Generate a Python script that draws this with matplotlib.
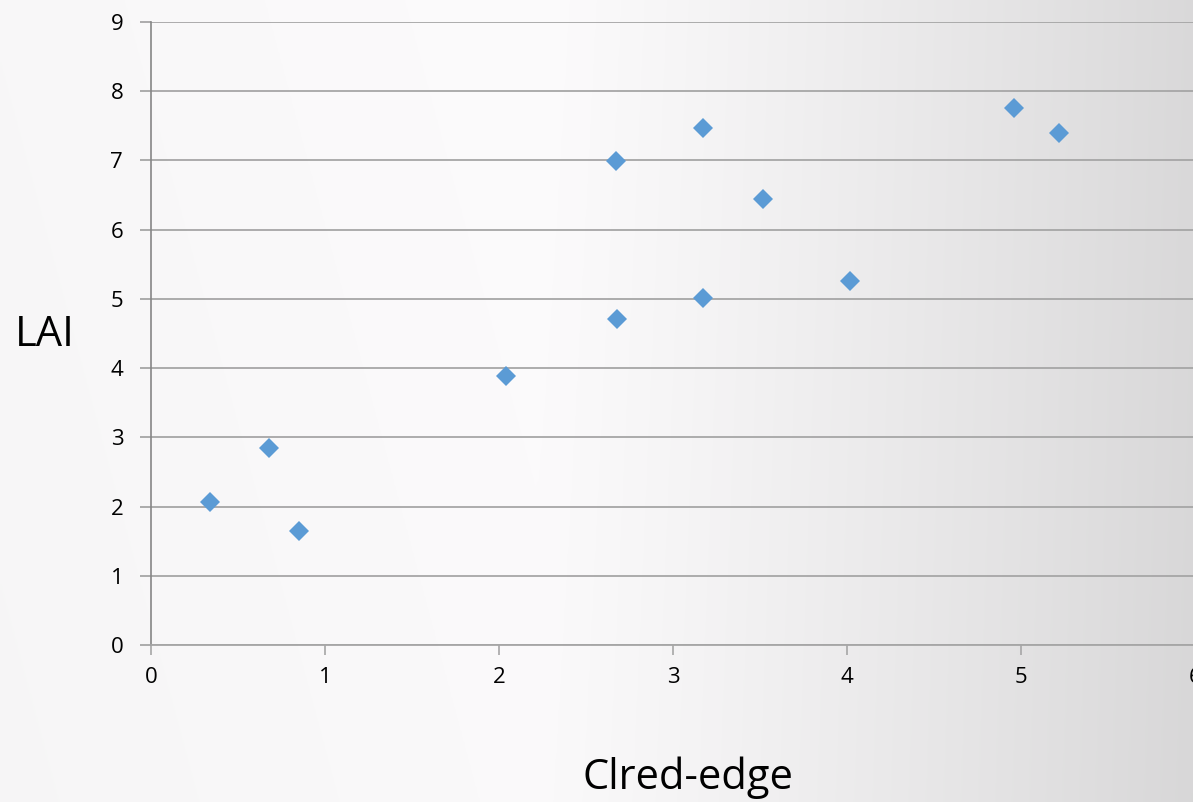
import numpy as np
import matplotlib.pyplot as plt

# данні
cl_red_edge = [0.34, 0.68, 0.85, 2.04, 2.67, 2.68, 3.17, 3.17, 3.52, 4.02, 4.96, 5.22]
lai = [2.07, 2.85, 1.65, 3.89, 6.99, 4.71, 7.47, 5.02, 6.44, 5.26, 7.76, 7.39]
x_ticks = [0, 1, 2, 3, 4, 5, 6]
y_ticks = [0, 1, 2, 3, 4, 5, 6, 7, 8, 9]

W, H = 1193, 802
fig = plt.figure(figsize=(W / 100, H / 100), dpi=100)
plt.rcParams['font.family'] = ['Open Sans', 'DejaVu Sans']

# фон з градієнтом (світлий зліва, сірий справа)
bg = fig.add_axes([0, 0, 1, 1], zorder=-10)
gx = np.linspace(0, 1, 400)
shade = np.where(gx < 0.45, 0.988 - 0.015 * np.abs(gx - 0.45) / 0.45,
                 0.988 - 0.135 * ((gx - 0.45) / 0.55) ** 1.2)
gy = np.linspace(0, 1, 200)[:, None]
img = shade[None, :] - 0.006 * gy
bg.imshow(np.dstack([img, img * 0.996, img]), aspect='auto', extent=[0, 1, 0, 1])
bg.axis('off')

left, right = 151 / W, 1195 / W
bottom, top = 1 - 645 / H, 1 - 22 / H
ax = fig.add_axes([left, bottom, right - left, top - bottom])
ax.patch.set_alpha(0)

ax.plot(cl_red_edge, lai, linestyle='none', marker='D', markersize=10,
        color='#5b9bd5', markeredgewidth=0, zorder=3)

ax.set_xlim(0, 6)
ax.set_ylim(0, 9)
ax.set_xticks(x_ticks)
ax.set_yticks(y_ticks)
ax.grid(axis='y', color='#a6a6a6', linewidth=1.3)
ax.set_axisbelow(True)
for s in ['top', 'right']:
    ax.spines[s].set_visible(False)
ax.spines['left'].set_color('#868686')
ax.spines['bottom'].set_color('#a6a6a6')
ax.spines['left'].set_linewidth(1.2)
ax.spines['bottom'].set_linewidth(1.3)
ax.tick_params(axis='y', length=8, color='#a6a6a6', width=1.3, labelsize=16, pad=12)
ax.tick_params(axis='x', length=7, color='#a6a6a6', width=1.2, labelsize=16, pad=9)

fig.text(45 / W, 1 - 335 / H, 'LAI', fontsize=30, ha='center', va='center')
fig.text(688 / W, 1 - 778 / H, 'Clred-edge', fontsize=30, ha='center', va='center')

fig.savefig('out.png', dpi=100)
